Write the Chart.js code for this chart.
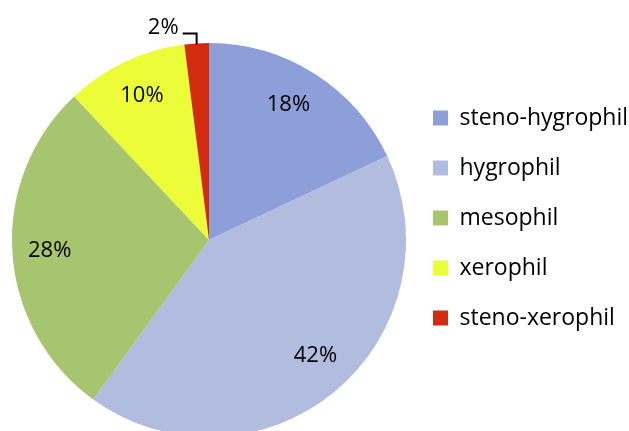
<!DOCTYPE html>
<html>
<head>
<meta charset="utf-8">
<script src="https://cdn.jsdelivr.net/npm/chart.js@4/dist/chart.umd.min.js"></script>
<style>
  html, body { margin: 0; padding: 0; background: #fff; }
  #wrap { width: 629px; height: 431px; overflow: hidden; }
</style>
</head>
<body>
<div id="wrap"><canvas id="pie" width="629" height="440"></canvas></div>
<script>
const categories = ['steno-hygrophil', 'hygrophil', 'mesophil', 'xerophil', 'steno-xerophil'];
const shares = [18, 42, 28, 10, 2];
const sliceColors = ['#8d9ed9', '#b2bcdf', '#a7c46e', '#edfc38', '#d32b0f'];

// Excel-ish "best fit" nudges for the inside labels (px)
const labelNudge = [[-5, -2], [6, -6], [-2, 1], [0, -2], [0, 0]];

const pctLabels = {
  id: 'pctLabels',
  afterDatasetsDraw(chart) {
    const ctx = chart.ctx;
    const meta = chart.getDatasetMeta(0);
    ctx.save();
    ctx.font = '22px "Open Sans"';
    ctx.fillStyle = '#000';
    ctx.strokeStyle = '#000';
    ctx.lineWidth = 2;
    ctx.textBaseline = 'middle';
    meta.data.forEach((arc, i) => {
      const {x, y, startAngle, endAngle, outerRadius} =
        arc.getProps(['x', 'y', 'startAngle', 'endAngle', 'outerRadius'], true);
      const mid = (startAngle + endAngle) / 2;
      const text = shares[i] + '%';
      if (shares[i] < 5) {
        // small slice: label outside with a leader line
        const ex = x + Math.cos(mid) * outerRadius;
        const ey = y + Math.sin(mid) * outerRadius;
        const ly = ey - 10;
        ctx.beginPath();
        ctx.moveTo(ex, ey + 1);
        ctx.lineTo(ex, ly);
        ctx.lineTo(ex - 14, ly);
        ctx.stroke();
        ctx.textAlign = 'right';
        ctx.fillText(text, ex - 18, ly - 6);
      } else {
        const r = outerRadius * 0.8;
        ctx.textAlign = 'center';
        ctx.fillText(text, x + Math.cos(mid) * r + labelNudge[i][0], y + Math.sin(mid) * r + labelNudge[i][1]);
      }
    });
    ctx.restore();
  }
};

new Chart(document.getElementById('pie'), {
  type: 'pie',
  data: {
    labels: categories,
    datasets: [{
      data: shares,
      backgroundColor: sliceColors,
      borderWidth: 0
    }]
  },
  options: {
    responsive: false,
    devicePixelRatio: 1,
    animation: false,
    layout: { padding: { left: 12, right: 3, top: 43, bottom: 3 } },
    plugins: {
      tooltip: { enabled: false },
      legend: {
        position: 'right',
        align: 'start',
        maxWidth: 220,
        title: { display: true, text: '', font: { size: 10 }, padding: { top: 24.5, bottom: 0 } },
        labels: {
          boxWidth: 15,
          boxHeight: 15,
          padding: 27,
          color: '#000',
          font: { family: '"Open Sans"', size: 23 }
        }
      }
    }
  },
  plugins: [pctLabels]
});
</script>
</body>
</html>
